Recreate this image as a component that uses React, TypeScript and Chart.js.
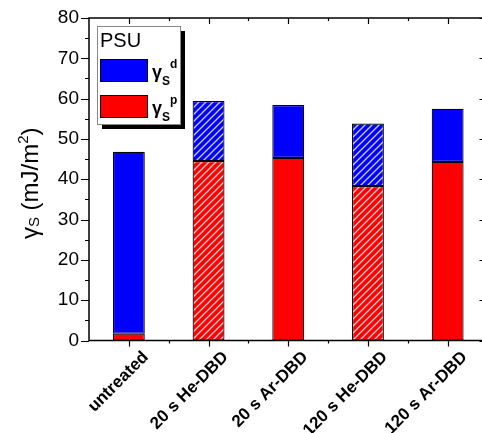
import { useEffect, useRef } from "react";
import { Chart, registerables } from "chart.js";

Chart.register(...registerables);

// Surface energy components of PSU after plasma treatment
const categories = ["untreated", "20 s He-DBD", "20 s Ar-DBD", "120 s He-DBD", "120 s Ar-DBD"];
const polarPart = [1.7, 44.5, 45.3, 38.3, 44.3]; // γS p
const dispersivePart = [45.1, 14.9, 13.1, 15.5, 13.2]; // γS d
const hatched = [false, true, false, true, false]; // He-DBD samples
const yMin = 0;
const yMax = 80;
const yStep = 10;

const FONT = "'Liberation Sans', Arial, Helvetica, sans-serif";
const RED = "#ff0000";
const BLUE = "#0000ff";

function makeHatch(color: string): CanvasPattern | string {
  const s = 7;
  const c = document.createElement("canvas");
  c.width = s;
  c.height = s;
  const g = c.getContext("2d");
  if (!g) return color;
  g.fillStyle = color;
  g.fillRect(0, 0, s, s);
  g.strokeStyle = "rgba(255,255,255,0.8)";
  g.lineWidth = 1.3;
  g.beginPath();
  g.moveTo(-1, s + 1);
  g.lineTo(s + 1, -1);
  g.moveTo(-1, 1);
  g.lineTo(1, -1);
  g.moveTo(s - 1, s + 1);
  g.lineTo(s + 1, s - 1);
  g.stroke();
  return g.createPattern(c, "repeat") || color;
}

type Run = { text: string; font: string; dy: number };

function runsWidth(ctx: CanvasRenderingContext2D, runs: Run[]) {
  let w = 0;
  for (const r of runs) {
    ctx.font = r.font;
    w += ctx.measureText(r.text).width;
  }
  return w;
}

function drawRuns(ctx: CanvasRenderingContext2D, x: number, y: number, runs: Run[]) {
  let cx = x;
  ctx.textBaseline = "alphabetic";
  ctx.textAlign = "left";
  for (const r of runs) {
    ctx.font = r.font;
    ctx.fillText(r.text, cx, y + r.dy);
    cx += ctx.measureText(r.text).width;
  }
}

const framePlugin = {
  id: "frameAndLegend",
  afterDraw(chart: Chart) {
    const ctx = chart.ctx;
    const { left, right, top, bottom } = chart.chartArea;
    const xs = chart.scales.x;
    const ys = chart.scales.y;
    ctx.save();
    ctx.strokeStyle = "#000";
    ctx.lineWidth = 1.5;
    ctx.strokeRect(left, top, right - left, bottom - top);

    ctx.lineWidth = 1.2;
    ctx.beginPath();
    for (let v = yMin; v <= yMax; v += yStep / 2) {
      const py = Math.round(ys.getPixelForValue(v)) + 0.5;
      const major = v % yStep === 0;
      const len = major ? 8 : 4;
      ctx.moveTo(left - len, py);
      ctx.lineTo(left, py);
      ctx.moveTo(right, py);
      ctx.lineTo(right - len, py);
    }
    for (let i = 0; i < categories.length; i++) {
      const px = Math.round(xs.getPixelForValue(i)) + 0.5;
      ctx.moveTo(px, bottom);
      ctx.lineTo(px, bottom + 6);
      ctx.moveTo(px, top);
      ctx.lineTo(px, top + 6);
      if (i > 0) {
        const mx = Math.round((xs.getPixelForValue(i) + xs.getPixelForValue(i - 1)) / 2) + 0.5;
        ctx.moveTo(mx, bottom);
        ctx.lineTo(mx, bottom + 3);
        ctx.moveTo(mx, top);
        ctx.lineTo(mx, top + 3);
      }
    }
    ctx.stroke();

    // rotated category labels
    ctx.fillStyle = "#000";
    ctx.font = `bold 17px ${FONT}`;
    for (let i = 0; i < categories.length; i++) {
      const px = xs.getPixelForValue(i);
      ctx.save();
      ctx.translate(px + 11, bottom + 8);
      ctx.rotate(-Math.PI / 4);
      ctx.textAlign = "right";
      ctx.textBaseline = "top";
      ctx.fillText(categories[i], 0, 0);
      ctx.restore();
    }

    // legend box with drop shadow
    const bx = left + 8;
    const by = top + 8;
    const bw = 84;
    const bh = 99;
    ctx.fillStyle = "#000";
    ctx.fillRect(bx + 5, by + 5, bw - 1, bh - 1);
    ctx.fillStyle = "#fff";
    ctx.fillRect(bx, by, bw, bh);
    ctx.strokeStyle = "#888";
    ctx.lineWidth = 1;
    ctx.strokeRect(bx + 0.5, by + 0.5, bw - 1, bh - 1);

    ctx.fillStyle = "#000";
    ctx.font = `20px ${FONT}`;
    ctx.textBaseline = "alphabetic";
    ctx.textAlign = "left";
    ctx.fillText("PSU", bx + 3, by + 21);

    const swatches = [
      { color: BLUE, sup: "d", y: by + 33 },
      { color: RED, sup: "p", y: by + 69 },
    ];
    for (const s of swatches) {
      ctx.fillStyle = s.color;
      ctx.fillRect(bx + 3, s.y, 48, 23);
      ctx.strokeStyle = "#000";
      ctx.strokeRect(bx + 3.5, s.y + 0.5, 47, 22);
      ctx.fillStyle = "#000";
      drawRuns(ctx, bx + 55, s.y + 19, [
        { text: "γ", font: `bold 18px ${FONT}`, dy: 0 },
        { text: "S", font: `bold 12px ${FONT}`, dy: 7 },
        { text: s.sup, font: `bold 12px ${FONT}`, dy: -10 },
      ]);
    }

    // y-axis title
    const runs: Run[] = [
      { text: "γ", font: `24px ${FONT}`, dy: 0 },
      { text: "S", font: `15px ${FONT}`, dy: 1 },
      { text: " (mJ/m", font: `24px ${FONT}`, dy: 0 },
      { text: "2", font: `15px ${FONT}`, dy: -10 },
      { text: ")", font: `24px ${FONT}`, dy: 0 },
    ];
    const tw = runsWidth(ctx, runs);
    ctx.translate(38, (top + bottom) / 2 + 4);
    ctx.rotate(-Math.PI / 2);
    ctx.fillStyle = "#000";
    drawRuns(ctx, -tw / 2, 0, runs);
    ctx.restore();
  },
};

export default function App() {
  const ref = useRef<HTMLCanvasElement | null>(null);

  useEffect(() => {
    const canvas = ref.current;
    if (!canvas) return;
    const redFill = polarPart.map((_, i) => (hatched[i] ? makeHatch(RED) : RED));
    const blueFill = dispersivePart.map((_, i) => (hatched[i] ? makeHatch(BLUE) : BLUE));

    const chart = new Chart(canvas, {
      type: "bar",
      data: {
        labels: categories,
        datasets: [
          {
            label: "γS p",
            data: polarPart,
            backgroundColor: redFill as any,
            borderColor: "#000",
            borderWidth: 1.2,
            borderSkipped: false,
            barPercentage: 0.4,
            categoryPercentage: 1,
          },
          {
            label: "γS d",
            data: dispersivePart,
            backgroundColor: blueFill as any,
            borderColor: "#000",
            borderWidth: 1.2,
            borderSkipped: false,
            barPercentage: 0.4,
            categoryPercentage: 1,
          },
        ],
      },
      options: {
        responsive: false,
        animation: false,
        devicePixelRatio: 1,
        layout: { padding: { left: 0, right: 2.5, top: 18, bottom: 0 } },
        plugins: {
          legend: { display: false },
          tooltip: { enabled: false },
        },
        scales: {
          x: {
            stacked: true,
            grid: { display: false, drawTicks: false },
            border: { display: false },
            ticks: { display: false },
            afterFit: (s: any) => {
              s.height = 92.5;
              s.paddingLeft = 0;
              s.paddingRight = 0;
            },
          },
          y: {
            stacked: true,
            min: yMin,
            max: yMax,
            grid: { display: false, drawTicks: false },
            border: { display: false },
            ticks: {
              stepSize: yStep,
              color: "#000",
              font: { family: FONT, size: 19 },
              padding: 10,
            },
            afterFit: (s: any) => {
              s.width = 89;
              s.paddingTop = 0;
              s.paddingBottom = 0;
            },
          },
        },
      },
      plugins: [framePlugin],
    });
    return () => chart.destroy();
  }, []);

  return (
    <div
      style={{
        position: "fixed",
        left: 0,
        top: 0,
        width: 482,
        height: 433,
        overflow: "hidden",
        background: "#fff",
      }}
    >
      <canvas ref={ref} width={490} height={433} style={{ display: "block" }} />
    </div>
  );
}
